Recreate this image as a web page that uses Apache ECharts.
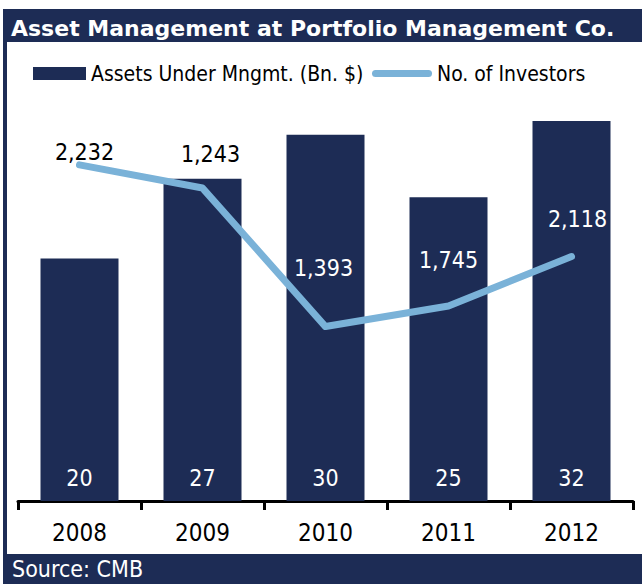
<!DOCTYPE html>
<html><head><meta charset="utf-8">
<script src="https://cdn.jsdelivr.net/npm/echarts@6/dist/echarts.min.js"></script>
<style>html,body{margin:0;padding:0;background:#fff}#c{width:642px;height:584px}</style>
</head><body><div id="c"></div>
<script>
// ---- data ----
const titleText = 'Asset Management at Portfolio Management Co.';
const sourceText = 'Source: CMB';
const years = ['2008', '2009', '2010', '2011', '2012'];
const seriesNames = ['Assets Under Mngmt. (Bn. $)', 'No. of Investors'];
const assets = [20.15, 26.8, 30.45, 25.25, 31.6];        // bar heights as drawn
const investors = [2395, 2230, 1243, 1390, 1742];         // line points as drawn
const investorLabels = ['2,232', '1,243', '1,393', '1,745', '2,118']; // printed labels

// ---- style / layout ----
const NAVY = '#1D2C55', BLUE = '#7AB2D8';
const FONT = "'DejaVu Sans Condensed', 'Liberation Sans', sans-serif";
const labelOffsets = [[5, -13], [8, -34], [-2, -59], [0, -46], [6, -38]];
const labelColors = ['#000', '#000', '#fff', '#fff', '#fff'];
const LINE_ICON = 'path://M3.5,0 L56.5,0 A3.5,3.5 0 0 1 56.5,7 L3.5,7 A3.5,3.5 0 0 1 3.5,0 Z';

const chart = echarts.init(document.getElementById('c'), null, { renderer: 'svg' });
chart.setOption({
  animation: false,
  textStyle: { fontFamily: FONT },
  graphic: [
    { type: 'rect', shape: { x: 3, y: 9, width: 4, height: 575 }, style: { fill: NAVY } },
    { type: 'rect', shape: { x: 3, y: 9, width: 639, height: 33 }, style: { fill: NAVY } },
    { type: 'rect', shape: { x: 3, y: 554, width: 639, height: 30 }, style: { fill: NAVY } },
    { type: 'text', x: 11, y: 28, style: { text: titleText, fill: '#fff', font: "bold 22px 'DejaVu Sans', sans-serif", textVerticalAlign: 'middle' } },
    { type: 'text', x: 12, y: 569, style: { text: sourceText, fill: '#fff', font: "23px " + FONT, textVerticalAlign: 'middle' } }
  ],
  legend: [
    {
      left: 33, top: 63, padding: 0,
      itemWidth: 53, itemHeight: 13,
      textStyle: { fontSize: 21, color: '#000', fontFamily: FONT },
      data: [{ name: seriesNames[0], icon: 'rect' }]
    },
    {
      left: 372, top: 63, padding: 0,
      itemWidth: 60, itemHeight: 7,
      textStyle: { fontSize: 21, color: '#000', fontFamily: FONT },
      data: [{ name: seriesNames[1], icon: LINE_ICON }]
    }
  ],
  grid: { left: 18, right: 9, top: 80, bottom: 83 },
  xAxis: {
    type: 'category', data: years, boundaryGap: true,
    axisLine: { lineStyle: { color: '#000', width: 3 } },
    axisTick: { show: true, length: 9, lineStyle: { color: '#000', width: 3 } },
    axisLabel: { color: '#000', fontSize: 24, margin: 20, fontFamily: FONT }
  },
  yAxis: [
    { type: 'value', min: 0, max: 35, show: false, splitLine: { show: false } },
    { type: 'value', min: 0, max: 3000, show: false, splitLine: { show: false } }
  ],
  series: [
    {
      name: seriesNames[0], type: 'bar', data: assets, yAxisIndex: 0,
      barWidth: 78, itemStyle: { color: NAVY },
      label: {
        show: true, position: 'insideBottom', distance: 12,
        color: '#fff', fontSize: 23, lineHeight: 23, fontFamily: FONT,
        formatter: p => String(Math.round(p.value))
      }
    },
    {
      name: seriesNames[1], type: 'line', yAxisIndex: 1,
      data: investors.map((v, i) => ({
        value: v,
        label: { offset: labelOffsets[i], color: labelColors[i] }
      })),
      symbol: 'circle', symbolSize: 1, showSymbol: true,
      lineStyle: { color: BLUE, width: 7, cap: 'round', join: 'round' },
      itemStyle: { color: BLUE },
      label: {
        show: true, position: 'inside', fontSize: 23, fontFamily: FONT,
        formatter: p => investorLabels[p.dataIndex]
      },
      z: 3
    }
  ]
});
</script>
</body></html>
